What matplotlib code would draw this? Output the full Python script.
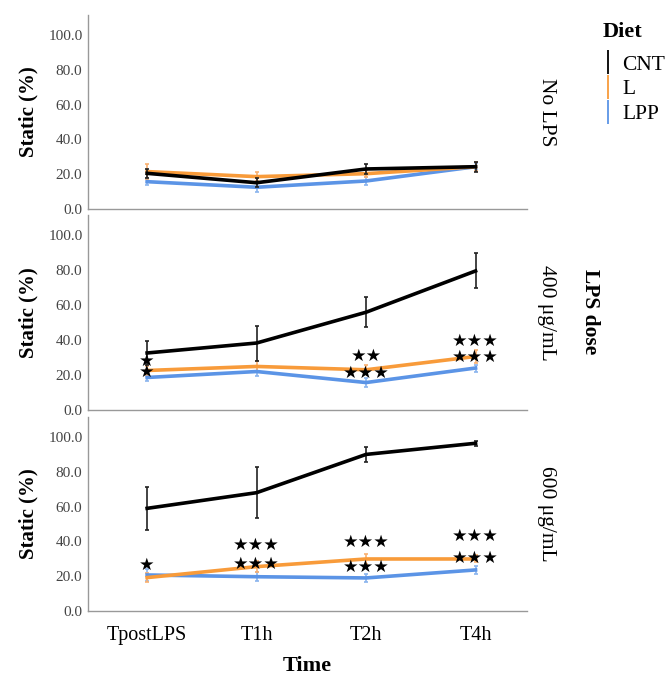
import numpy as np
import matplotlib.pyplot as plt
from matplotlib.lines import Line2D

plt.rcParams['font.family'] = ['Liberation Serif', 'DejaVu Serif']

# Data (mean and error bar half-lengths)
times = ['TpostLPS', 'T1h', 'T2h', 'T4h']
diets = ['CNT', 'L', 'LPP']
panel_labels = ['No LPS', '400 μg/mL', '600 μg/mL']

cnt_mean = [[20.5, 15.1, 23.0, 24.3], [32.6, 38.3, 55.9, 79.5], [59.0, 68.0, 90.0, 96.4]]
cnt_err = [[2.5, 2.5, 3.0, 3.0], [7.0, 10.0, 8.5, 10.0], [12.5, 14.5, 4.5, 1.5]]
l_mean = [[21.5, 18.6, 20.3, 24.3], [22.6, 24.9, 23.0, 30.6], [19.2, 25.5, 29.9, 29.9]]
l_err = [[4.5, 2.5, 2.0, 2.5], [2.5, 3.0, 2.5, 3.5], [2.5, 3.0, 3.0, 2.0]]
lpp_mean = [[15.7, 12.5, 16.1, 24.3], [18.6, 22.0, 15.7, 24.0], [20.7, 19.7, 19.0, 23.6]]
lpp_err = [[2.0, 2.5, 2.5, 2.0], [2.0, 2.5, 2.5, 2.0], [3.5, 2.5, 2.5, 2.5]]

# significance marks: (panel, time index, y value, text)
stars = [
    (1, 0, 27.8, '★'), (1, 0, 21.8, '★'),
    (1, 2, 31.2, '★★'), (1, 2, 21.0, '★★★'),
    (1, 3, 39.7, '★★★'), (1, 3, 30.6, '★★★'),
    (2, 0, 26.4, '★'),
    (2, 1, 38.0, '★★★'), (2, 1, 26.8, '★★★'),
    (2, 2, 39.8, '★★★'), (2, 2, 25.5, '★★★'),
    (2, 3, 43.0, '★★★'), (2, 3, 30.6, '★★★'),
]

colors = {'CNT': '#000000', 'L': '#F89B3A', 'LPP': '#5B94E6'}
err_colors = {'CNT': '#222222', 'L': '#F9B070', 'LPP': '#8AB4EE'}

fig = plt.figure(figsize=(6.7, 6.77), dpi=100)
W, H = 670, 677
boxes = [(15, 209), (215, 410), (417, 611)]
x = np.arange(len(times))
axes = []
for i, (top, bot) in enumerate(boxes):
    ax = fig.add_axes([88 / W, 1 - bot / H, 439 / W, (bot - top) / H])
    axes.append(ax)
    series = [('CNT', cnt_mean[i], cnt_err[i]), ('L', l_mean[i], l_err[i]),
              ('LPP', lpp_mean[i], lpp_err[i])]
    for name, m, e in series[::-1]:
        ax.errorbar(x, m, yerr=e, color=colors[name], ecolor=err_colors[name],
                    lw=2.6, elinewidth=1.2, capsize=1.5, capthick=1.2,
                    zorder=3 if name == 'CNT' else 2)
    ax.set_xlim(-0.54, 3.47)
    ax.set_ylim(0, 111.5)
    ax.set_yticks(np.arange(0, 101, 20))
    ax.set_yticklabels([f'{v:.1f}' for v in np.arange(0, 101, 20)], color='#444444', fontsize=11)
    ax.tick_params(axis='both', length=0, pad=4)
    ax.set_xticks(x)
    for s in ['top', 'right']:
        ax.spines[s].set_visible(False)
    for s in ['left', 'bottom']:
        ax.spines[s].set_color('#999999')
        ax.spines[s].set_linewidth(1.0)
    ax.set_ylabel('Static (%)', fontsize=15, fontweight='bold')
    ax.yaxis.set_label_coords(-0.113, 0.5)
    ax.text(1.045, 0.5, panel_labels[i], transform=ax.transAxes, rotation=-90,
            ha='center', va='center', fontsize=15.5)
    if i < 2:
        ax.set_xticklabels([])
    else:
        ax.set_xticklabels(times, fontsize=14.5)
        ax.tick_params(axis='x', pad=11)
        ax.set_xlabel('Time', fontsize=16, fontweight='bold', labelpad=8)

for p, t, y, s in stars:
    axes[p].text(x[t], y, s, ha='center', va='center', fontsize=12.5,
                 family='DejaVu Sans', color='black', zorder=5)

fig.text(590 / W, 1 - 312 / H, 'LPS dose', rotation=-90, ha='center', va='center',
         fontsize=15.5, fontweight='bold')

handles = [Line2D([], [], color=colors[d], marker='|', linestyle='None',
                  markersize=17, markeredgewidth=1.3) for d in diets]
leg = fig.legend(handles, diets, title='Diet', loc='upper left',
                 bbox_to_anchor=(603 / W, 1 - 22 / H), frameon=False, fontsize=15.5,
                 handlelength=0.5, handletextpad=0.4, labelspacing=0.22,
                 borderpad=0, borderaxespad=0,
                 title_fontproperties={'weight': 'bold', 'size': 16})
leg._legend_box.align = 'left'
leg._legend_box.sep = 9

fig.savefig('out.png', dpi=100)
